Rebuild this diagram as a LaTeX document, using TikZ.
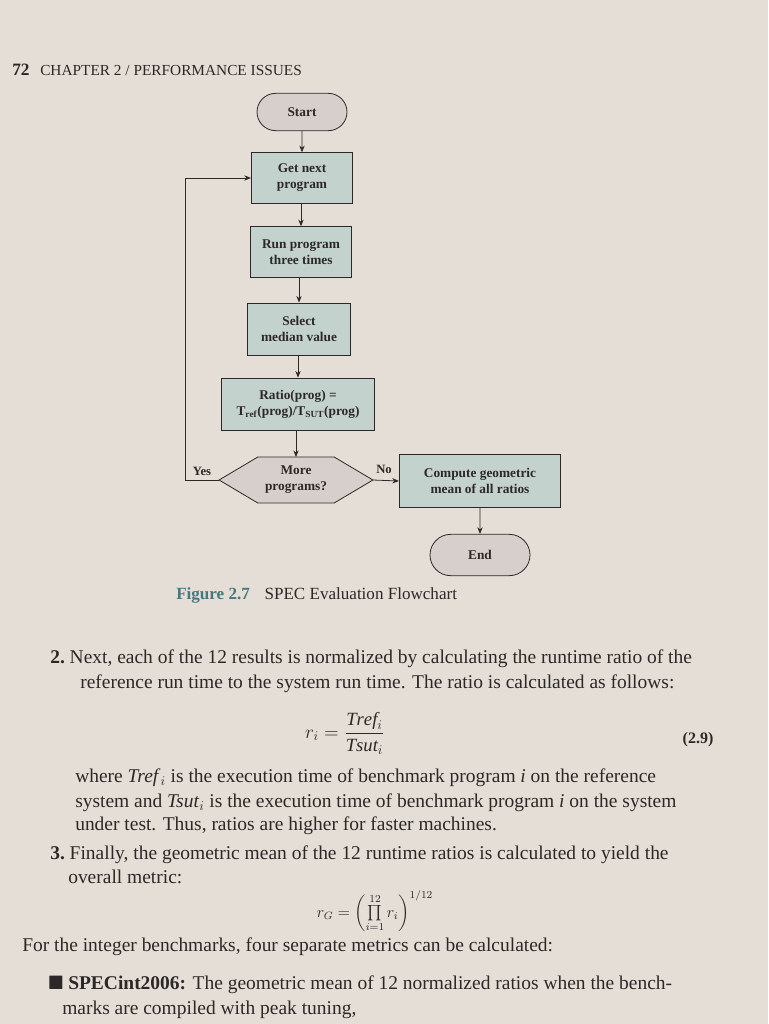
\documentclass[tikz,border=0pt]{standalone}
\usepackage{amsmath,amssymb}
\usepackage{fontspec}
\setmainfont{Liberation Serif}
\usetikzlibrary{shapes.misc,arrows.meta,backgrounds}
\definecolor{page}{RGB}{228,222,214}
\definecolor{boxf}{RGB}{196,210,205}
\definecolor{pillf}{RGB}{214,207,203}
\definecolor{teal2}{RGB}{70,120,125}
\definecolor{ink}{RGB}{45,40,40}
\begin{document}
\begin{tikzpicture}[x=0.75pt,y=-0.75pt,
  proc/.style={draw=ink,fill=boxf,line width=0.6pt,align=center,inner sep=0pt,font=\bfseries\fontsize{10}{12}\selectfont,text=ink},
  pill/.style={draw=ink,fill=pillf,rounded rectangle,line width=0.6pt,inner sep=0pt,font=\bfseries\fontsize{10}{12}\selectfont,text=ink},
  arr/.style={-{Stealth[length=5pt,width=4pt]},draw=ink,line width=0.6pt},
  body/.style={anchor=west,inner sep=0pt,text=ink,font=\fontsize{14.6}{16}\selectfont}]
\useasboundingbox (0,0) rectangle (768,1024);
% header
\node[anchor=west,inner sep=0pt,text=ink] (hdr) at (12,70) {\bfseries\fontsize{13}{15}\selectfont 72\hspace{8pt}\mdseries\fontsize{11.5}{13}\selectfont CHAPTER 2 / PERFORMANCE ISSUES};
% flowchart
\node[pill,minimum width=67.5pt,minimum height=28pt] (start) at (302,112) {Start};
\node[proc,minimum width=76pt,minimum height=38pt] (get) at (302,178) {Get next\\program};
\node[proc,minimum width=76pt,minimum height=38pt] (run) at (301,252) {Run program\\three times};
\node[proc,minimum width=77pt,minimum height=39pt] (sel) at (299,329) {Select\\median value};
\node[proc,minimum width=115pt,minimum height=39pt] (ratio) at (298,404) {Ratio(prog) =\\T$_{\mathbf{ref}}$(prog)/T$_{\mathbf{SUT}}$(prog)};
\node[minimum width=115pt,minimum height=34pt,inner sep=0pt,align=center,font=\bfseries\fontsize{10}{12}\selectfont,text=ink] (more) at (296,480) {More\\programs?};
\begin{scope}[on background layer]
\fill[page] (0,0) rectangle (768,1024);
\draw[draw=ink,fill=pillf,line width=0.6pt] (more.west) -- ([xshift=29pt]more.north west) -- ([xshift=-29pt]more.north east) -- (more.east) -- ([xshift=-29pt]more.south east) -- ([xshift=29pt]more.south west) -- cycle;
\end{scope}
\node[proc,minimum width=121pt,minimum height=40pt] (geo) at (480,481) {Compute geometric\\mean of all ratios};
\node[pill,minimum width=75pt,minimum height=31pt] (end) at (480,555) {End};
\coordinate (lc) at (185,480);
\coordinate (lt) at (185,178);
\draw[arr] (start) -- (start |- get.north);
\draw[arr] (get.south -| run) -- (run.north);
\draw[arr] (run.south -| sel) -- (sel.north);
\draw[arr] (sel.south -| ratio) -- (ratio.north);
\draw[arr] (ratio.south -| more) -- (more.north);
\draw[arr] (more.east) -- (geo.west);
\draw[arr] (geo) -- (end);
\draw[arr] (more.west) -- (lc) -- (lt) -- (get.west);
\node[inner sep=0pt,font=\bfseries\fontsize{9.5}{11}\selectfont,text=ink] (yes) at (202,471) {Yes};
\node[inner sep=0pt,font=\bfseries\fontsize{9.5}{11}\selectfont,text=ink] (no) at (384,469) {No};
\node[anchor=west,inner sep=0pt] (cap) at (176,595) {\textcolor{teal2}{\bfseries\fontsize{12.8}{14}\selectfont Figure 2.7}\hspace{11pt}\textcolor{ink}{\fontsize{12.8}{14}\selectfont SPEC Evaluation Flowchart}};
% body text
\node[body] (l1) at (50,659) {\textbf{2.}\ Next, each of the 12 results is normalized by calculating the runtime ratio of the};
\node[body] (l2) at (80,684) {reference run time to the system run time. The ratio is calculated as follows:};
\node[inner sep=0pt,text=ink,font=\fontsize{14}{16}\selectfont] (eq1) at (345,733) {$r_i=\dfrac{\mathit{Tref}_i}{\mathit{Tsut}_i}$};
\node[inner sep=0pt,text=ink,font=\bfseries\fontsize{12}{14}\selectfont] (eqn) at (698,740) {(2.9)};
\node[body] (l3) at (75,778) {where \textit{Tref}$_i$ is the execution time of benchmark program \textit{i} on the reference};
\node[body] (l4) at (75,803) {system and \textit{Tsut}$_i$ is the execution time of benchmark program \textit{i} on the system};
\node[body] (l5) at (75,826) {under test. Thus, ratios are higher for faster machines.};
\node[body] (l6) at (50,855) {\textbf{3.}\ Finally, the geometric mean of the 12 runtime ratios is calculated to yield the};
\node[body] (l7) at (68,877) {overall metric:};
\node[inner sep=0pt,text=ink,font=\fontsize{11.5}{13}\selectfont] (eq2) at (375,911) {$r_G=\left(\prod\limits_{i=1}^{12} r_i\right)^{1/12}$};
\node[body] (l8) at (22,947) {For the integer benchmarks, four separate metrics can be calculated:};
\node[body] (l9) at (48,985) {$\blacksquare$\ \textbf{SPECint2006:} The geometric mean of 12 normalized ratios when the bench-};
\node[body] (l10) at (62,1010) {marks are compiled with peak tuning,};
\end{tikzpicture}
\end{document}
